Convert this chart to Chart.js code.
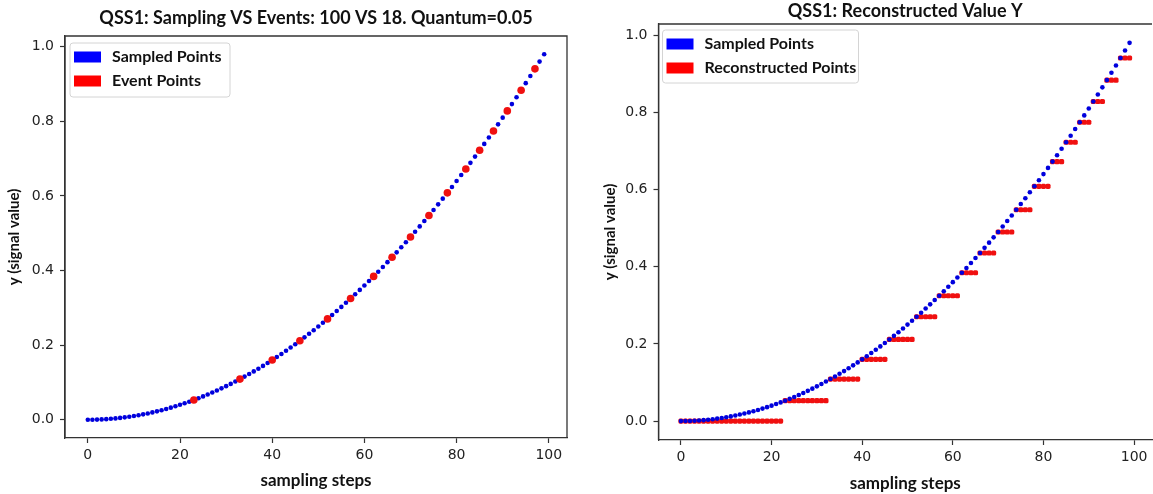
<!DOCTYPE html>
<html lang="en">
<head>
    <meta charset="UTF-8">
    <title>QSS1 sampling vs events</title>
    <script src="https://cdn.jsdelivr.net/npm/chart.js"></script>
    <style>
        html, body { margin: 0; padding: 0; background: #fff; overflow: hidden; }
        body { width: 1153px; height: 494px; position: relative; }
        .panel { position: absolute; top: 0; height: 494px; }
        #leftBox { left: 0; width: 580px; }
        #rightBox { left: 580px; width: 576px; }
    </style>
</head>
<body>

<div class="panel" id="leftBox"><canvas id="leftChart"></canvas></div>
<div class="panel" id="rightBox"><canvas id="rightChart"></canvas></div>

<script>
    // sampling steps 0..99
    const steps = [
        0, 1, 2, 3, 4, 5, 6, 7, 8, 9,
        10, 11, 12, 13, 14, 15, 16, 17, 18, 19,
        20, 21, 22, 23, 24, 25, 26, 27, 28, 29,
        30, 31, 32, 33, 34, 35, 36, 37, 38, 39,
        40, 41, 42, 43, 44, 45, 46, 47, 48, 49,
        50, 51, 52, 53, 54, 55, 56, 57, 58, 59,
        60, 61, 62, 63, 64, 65, 66, 67, 68, 69,
        70, 71, 72, 73, 74, 75, 76, 77, 78, 79,
        80, 81, 82, 83, 84, 85, 86, 87, 88, 89,
        90, 91, 92, 93, 94, 95, 96, 97, 98, 99
    ];

    // sampled signal value at each step
    const sampledY = [
        0, 0.0001, 0.0004, 0.0009, 0.0016, 0.0025, 0.0036, 0.0049, 0.0064, 0.0081,
        0.01, 0.0121, 0.0144, 0.0169, 0.0196, 0.0225, 0.0256, 0.0289, 0.0324, 0.0361,
        0.04, 0.0441, 0.0484, 0.0529, 0.0576, 0.0625, 0.0676, 0.0729, 0.0784, 0.0841,
        0.09, 0.0961, 0.1024, 0.1089, 0.1156, 0.1225, 0.1296, 0.1369, 0.1444, 0.1521,
        0.16, 0.1681, 0.1764, 0.1849, 0.1936, 0.2025, 0.2116, 0.2209, 0.2304, 0.2401,
        0.25, 0.2601, 0.2704, 0.2809, 0.2916, 0.3025, 0.3136, 0.3249, 0.3364, 0.3481,
        0.36, 0.3721, 0.3844, 0.3969, 0.4096, 0.4225, 0.4356, 0.4489, 0.4624, 0.4761,
        0.49, 0.5041, 0.5184, 0.5329, 0.5476, 0.5625, 0.5776, 0.5929, 0.6084, 0.6241,
        0.64, 0.6561, 0.6724, 0.6889, 0.7056, 0.7225, 0.7396, 0.7569, 0.7744, 0.7921,
        0.81, 0.8281, 0.8464, 0.8649, 0.8836, 0.9025, 0.9216, 0.9409, 0.9604, 0.9801
    ];

    // event points (quantum crossings)
    const eventSteps = [23, 33, 40, 46, 52, 57, 62, 66, 70, 74, 78, 82, 85, 88, 91, 94, 97];
    const eventY = [0.0529, 0.1089, 0.16, 0.2116, 0.2704, 0.3249, 0.3844, 0.4356, 0.49,
        0.5476, 0.6084, 0.6724, 0.7225, 0.7744, 0.8281, 0.8836, 0.9409];

    // reconstructed (held) value at each step
    const reconstructedY = [
        0, 0, 0, 0, 0, 0, 0, 0, 0, 0,
        0, 0, 0, 0, 0, 0, 0, 0, 0, 0,
        0, 0, 0, 0.0529, 0.0529, 0.0529, 0.0529, 0.0529, 0.0529, 0.0529,
        0.0529, 0.0529, 0.0529, 0.1089, 0.1089, 0.1089, 0.1089, 0.1089, 0.1089, 0.1089,
        0.16, 0.16, 0.16, 0.16, 0.16, 0.16, 0.2116, 0.2116, 0.2116, 0.2116,
        0.2116, 0.2116, 0.2704, 0.2704, 0.2704, 0.2704, 0.2704, 0.3249, 0.3249, 0.3249,
        0.3249, 0.3249, 0.3844, 0.3844, 0.3844, 0.3844, 0.4356, 0.4356, 0.4356, 0.4356,
        0.49, 0.49, 0.49, 0.49, 0.5476, 0.5476, 0.5476, 0.5476, 0.6084, 0.6084,
        0.6084, 0.6084, 0.6724, 0.6724, 0.6724, 0.7225, 0.7225, 0.7225, 0.7744, 0.7744,
        0.7744, 0.8281, 0.8281, 0.8281, 0.8836, 0.8836, 0.8836, 0.9409, 0.9409, 0.9409
    ];

    const xTicks = [0, 20, 40, 60, 80, 100];
    const yTicks = [0, 0.2, 0.4, 0.6, 0.8, 1.0];

    const axisColor = '#333';
    const labelFont = "'Lato', 'Open Sans', sans-serif";

    function pts(xs, ys) {
        return xs.map((x, i) => ({ x: x, y: ys[i] }));
    }

    // frame round the plot + legend box inside it
    const framePlugin = {
        id: 'frameAndLegend',
        afterDraw(chart, args, opts) {
            const { ctx, chartArea } = chart;
            const { left, right, top, bottom } = chartArea;
            ctx.save();
            ctx.strokeStyle = axisColor;
            ctx.lineWidth = 1.3;
            ctx.beginPath();
            ctx.moveTo(left, bottom);
            ctx.lineTo(left, top);
            ctx.lineTo(right, top);
            if (opts.rightSpine) ctx.lineTo(right, bottom);
            ctx.stroke();

            const bx = left + opts.dx, by = top + opts.dy;
            ctx.fillStyle = 'rgba(255,255,255,0.85)';
            ctx.strokeStyle = '#d4d4d4';
            ctx.lineWidth = 1;
            ctx.beginPath();
            ctx.roundRect(bx, by, opts.w, opts.h, 3);
            ctx.fill();
            ctx.stroke();

            ctx.font = 'bold 16px ' + labelFont;
            ctx.textBaseline = 'middle';
            opts.items.forEach((it, i) => {
                const cy = by + 14 + i * 24;
                ctx.fillStyle = it.color;
                ctx.fillRect(bx + 4, cy - 5.5, 27, 11);
                ctx.fillStyle = '#111';
                ctx.fillText(it.label, bx + 42, cy);
            });
            ctx.restore();
        }
    };

    function makeScales(cfg) {
        return {
            x: {
                type: 'linear',
                min: -4.95,
                max: 103.95,
                afterBuildTicks: s => { s.ticks = xTicks.map(v => ({ value: v })); },
                afterFit: s => { s.height = cfg.xHeight; },
                ticks: { color: '#222', font: { family: 'DejaVu Sans', size: 14 }, padding: 4, maxRotation: 0 },
                grid: { drawOnChartArea: false, tickLength: 5, color: axisColor, tickWidth: 1.2 },
                border: { display: true, color: axisColor, width: 1.3 },
                title: {
                    display: true, text: 'sampling steps', color: '#111',
                    font: { family: labelFont, size: 17, weight: 'bold' },
                    padding: { top: 0, bottom: cfg.xTitleBottom }
                }
            },
            y: {
                type: 'linear',
                min: -0.049,
                max: 1.029,
                afterBuildTicks: s => { s.ticks = yTicks.map(v => ({ value: v })); },
                afterFit: s => { s.width = cfg.yWidth; },
                ticks: {
                    color: '#222', font: { family: 'DejaVu Sans', size: 14 }, padding: 6,
                    callback: v => v.toFixed(1)
                },
                grid: { drawOnChartArea: false, tickLength: 5, color: axisColor, tickWidth: 1.2 },
                border: { display: true, color: axisColor, width: 1.3 },
                title: {
                    display: true, text: 'y (signal value)', color: '#111',
                    font: { family: labelFont, size: 15, weight: 'bold' },
                    padding: { top: cfg.yTitleTop, bottom: 0 }
                }
            }
        };
    }

    new Chart(document.getElementById('leftChart'), {
        type: 'scatter',
        data: {
            datasets: [
                {
                    label: 'Event Points',
                    data: pts(eventSteps, eventY),
                    backgroundColor: '#f01010',
                    borderWidth: 0,
                    pointRadius: 3.8,
                    order: 0
                },
                {
                    label: 'Sampled Points',
                    data: pts(steps, sampledY),
                    backgroundColor: '#0000dd',
                    borderWidth: 0,
                    pointRadius: 2.3,
                    order: 1
                }
            ]
        },
        options: {
            responsive: true,
            maintainAspectRatio: false,
            animation: false,
            layout: { padding: { left: 0, right: 13, top: 0, bottom: 0 } },
            plugins: {
                legend: { display: false },
                tooltip: { enabled: false },
                title: {
                    display: true,
                    fullSize: false,
                    text: 'QSS1: Sampling VS Events: 100 VS 18. Quantum=0.05',
                    color: '#111',
                    font: { family: labelFont, size: 18, weight: 'bold' },
                    padding: { top: 7, bottom: 7.4 }
                },
                frameAndLegend: {
                    dx: 5, dy: 7, w: 160, h: 54, rightSpine: true,
                    items: [
                        { label: 'Sampled Points', color: '#0000ff' },
                        { label: 'Event Points', color: '#ff0000' }
                    ]
                }
            },
            scales: makeScales({ xHeight: 56, yWidth: 65, xTitleBottom: 3, yTitleTop: 5 })
        },
        plugins: [framePlugin]
    });

    new Chart(document.getElementById('rightChart'), {
        type: 'scatter',
        data: {
            datasets: [
                {
                    label: 'Sampled Points',
                    data: pts(steps, sampledY),
                    backgroundColor: '#0000dd',
                    borderWidth: 0,
                    pointRadius: 2.3,
                    order: 0
                },
                {
                    label: 'Reconstructed Points',
                    data: pts(steps, reconstructedY),
                    backgroundColor: '#f01010',
                    borderWidth: 0,
                    pointStyle: 'rectRounded',
                    pointRadius: 3,
                    order: 1
                }
            ]
        },
        options: {
            responsive: true,
            maintainAspectRatio: false,
            animation: false,
            layout: { padding: { left: 0, right: 2, top: 0, bottom: 0 } },
            plugins: {
                legend: { display: false },
                tooltip: { enabled: false },
                title: {
                    display: true,
                    fullSize: false,
                    text: 'QSS1: Reconstructed Value Y',
                    color: '#111',
                    font: { family: labelFont, size: 18, weight: 'bold' },
                    padding: { top: 0, bottom: 2.4 }
                },
                frameAndLegend: {
                    dx: 4, dy: 6, w: 196, h: 53, rightSpine: false,
                    items: [
                        { label: 'Sampled Points', color: '#0000ff' },
                        { label: 'Reconstructed Points', color: '#ff0000' }
                    ]
                }
            },
            scales: makeScales({ xHeight: 54, yWidth: 78.5, xTitleBottom: 0, yTitleTop: 21 })
        },
        plugins: [framePlugin]
    });
</script>

</body>
</html>
